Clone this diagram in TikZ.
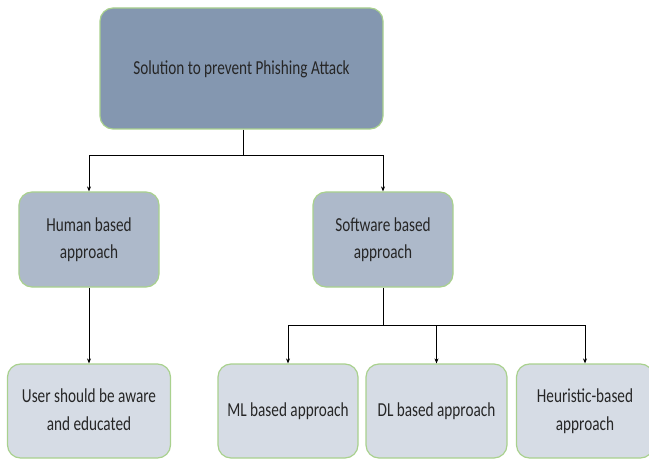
\documentclass[tikz,border=0pt]{standalone}
\usepackage{fontspec}
\setmainfont{Carlito}
\usetikzlibrary{arrows.meta}
\definecolor{topfill}{HTML}{8497B0}
\definecolor{midfill}{HTML}{ADB9CA}
\definecolor{lowfill}{HTML}{D6DCE5}
\definecolor{boxline}{HTML}{A9D18E}
\newcommand\lbl[1]{\scalebox{1}[1.3]{\begin{tabular}{@{}c@{}}#1\end{tabular}}}
\tikzset{
  box/.style={draw=boxline, line width=1.2bp, rounded corners=13bp, align=center, inner sep=0pt, font=\fontsize{15.3}{21.5}\selectfont, text=black!85},
  topbox/.style={box, fill=topfill},
  midbox/.style={box, fill=midfill},
  lowbox/.style={box, fill=lowfill},
  conn/.style={line width=0.8bp, black},
  arr/.style={conn, -{Stealth[length=5bp,width=4bp]}}
}
\begin{document}
\begin{tikzpicture}[x=1bp,y=-1bp]
\useasboundingbox (0,0) rectangle (649,459);
\node[topbox, minimum width=283bp, minimum height=121bp] (top) at (241.5,68.5) {\lbl{Solution to prevent Phishing Attack}};
\node[midbox, minimum width=140bp, minimum height=95bp] (human) at (89,239.5) {\lbl{Human based\\approach}};
\node[midbox, minimum width=140bp, minimum height=95bp] (soft) at (383,239.5) {\lbl{Software based\\approach}};
\node[lowbox, minimum width=163bp, minimum height=94bp] (user) at (89,411) {\lbl{User should be aware\\and educated}};
\node[lowbox, minimum width=140bp, minimum height=94bp] (ml) at (288,411) {\lbl{ML based approach}};
\node[lowbox, minimum width=141bp, minimum height=94bp] (dl) at (436.5,411) {\lbl{DL based approach}};
\node[lowbox, minimum width=137bp, minimum height=94bp] (heur) at (585,411) {\lbl{Heuristic-based\\approach}};
\coordinate (j1) at (243,155);
\coordinate (j2) at (383,325);
\draw[conn] (top.south -| j1) -- (j1);
\draw[arr] (j1) -| (human.north);
\draw[arr] (j1) -| (soft.north);
\draw[arr] (human.south) -- (user.north);
\draw[conn] (soft.south) -- (j2);
\draw[arr] (j2) -| (ml.north);
\draw[arr] (j2) -| (dl.north);
\draw[arr] (j2) -| (heur.north);
\end{tikzpicture}
\end{document}
